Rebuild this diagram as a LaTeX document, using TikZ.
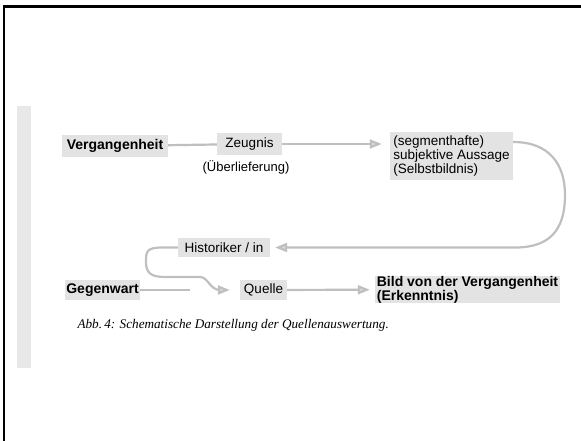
\documentclass[tikz,border=0pt]{standalone}
\usepackage{fontspec}
\setmainfont{Liberation Sans}
\newfontfamily\capfont{Liberation Serif}
\usetikzlibrary{arrows.meta}
\tikzset{
  kasten/.style={fill=gray!22, inner sep=0pt, minimum height=20pt,
    font=\fontsize{13.5}{14}\selectfont},
  fett/.style={kasten, font=\fontsize{14}{13}\selectfont\bfseries},
  linie/.style={draw=gray!50, line width=2.2pt},
  pfeil/.style={linie, -{Triangle[length=12pt,width=9pt,fill=gray!30]},
    shorten >=6pt},
}
\begin{document}
\begin{tikzpicture}[x=1pt,y=-1pt]
  % 边界
  \useasboundingbox (0,0) rectangle (581,441);
  % 边框
  \draw[line width=2.5pt] (4,441) -- (4,6.5) -- (581,6.5);
  % 灰条
  \fill[gray!18] (17,106) rectangle (31,368);
  % 方框
  \node[fett, minimum width=106pt, minimum height=22pt] (verg) at (115,146) {Vergangenheit};
  \node[kasten, minimum width=65pt, minimum height=22pt] (zeug) at (249.5,144) {Zeugnis};
  \node[font=\fontsize{13}{14}\selectfont] (ueber) at (246,167) {(Überlieferung)};
  \node[kasten, minimum width=123pt, minimum height=48pt,
    align=left] (segm) at (451.5,156) {(segmenthafte)\\subjektive Aussage\\(Selbstbildnis)};
  \node[kasten, minimum width=92pt, minimum height=19pt] (hist) at (224,247.5) {Historiker / in};
  \node[fett, minimum width=75pt] (gegen) at (102.5,290) {Gegenwart};
  \node[kasten, minimum width=47pt] (quel) at (263.5,290) {Quelle};
  \node[fett, minimum width=185pt, minimum height=25pt,
    align=left] (bild) at (467.5,289.5) {Bild von der Vergangenheit\\(Erkenntnis)};
  % 图注
  \node[anchor=west, font=\capfont\itshape\fontsize{13.2}{14}\selectfont] (abb)
    at (74,325) {Abb.\,4: Schematische Darstellung der Quellenauswertung.};
  % 连线
  \coordinate (gende) at (190,290);
  \draw[linie] (verg) -- (zeug);
  \draw[pfeil, shorten >=8pt] (zeug.east) -- (zeug.east -| segm.west);
  \draw[pfeil, shorten >=5pt] ([yshift=14pt]segm.east) .. controls (550,142) and (565,165) .. (565,195)
    .. controls (565,232) and (548,247.5) .. (515,247.5) -- (hist.east);
  \draw[pfeil, shorten >=10pt] (hist.west) -- (162,247.5) .. controls (146,247.5) and (146,252) .. (146,262)
    .. controls (146,273) and (151,277) .. (165,277) -- (200,277)
    .. controls (208,277) and (210,290) .. (220,290) -- (quel.west);
  \draw[linie] (gegen) -- (gende);
  \draw[pfeil, shorten >=5pt] (quel) -- (bild);
\end{tikzpicture}
\end{document}
